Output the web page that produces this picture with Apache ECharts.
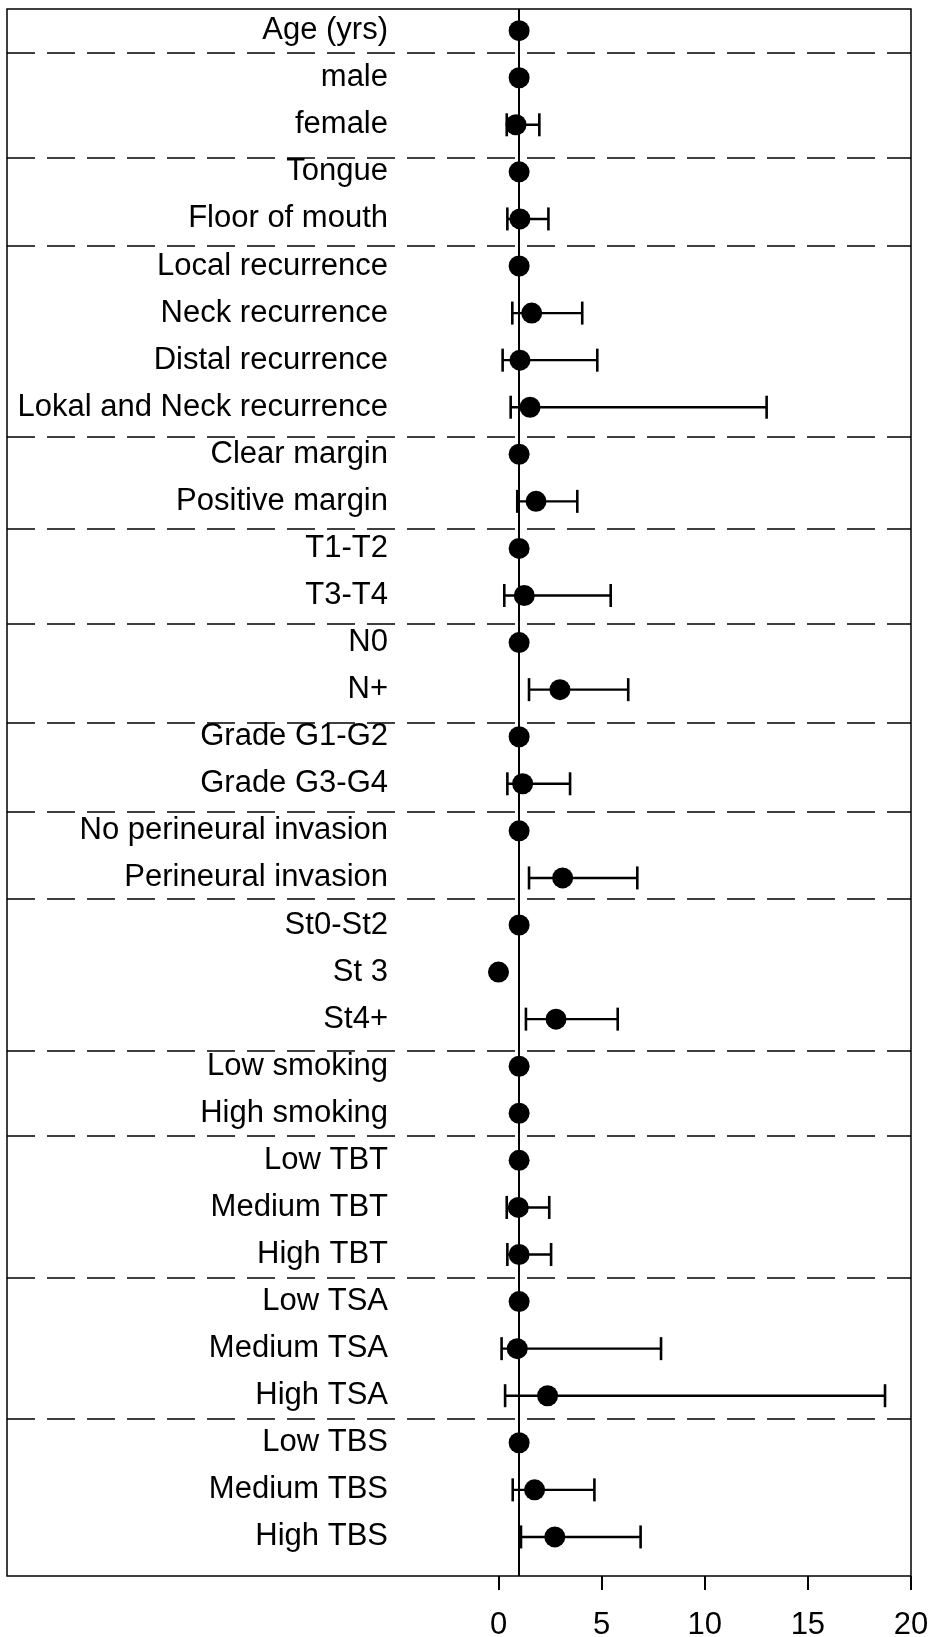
<!DOCTYPE html>
<html>
<head>
<meta charset="utf-8">
<title>Hazard ratios</title>
<script src="https://cdn.jsdelivr.net/npm/echarts@6/dist/echarts.min.js"></script>
<style>
  html, body { margin: 0; padding: 0; background: #fff; }
  #chart { width: 928px; height: 1637px; }
</style>
</head>
<body>
<div id="chart"></div>
<script>
// Row labels, top to bottom
const categories = [
  'Age (yrs)', 'male', 'female', 'Tongue', 'Floor of mouth',
  'Local recurrence', 'Neck recurrence', 'Distal recurrence', 'Lokal and Neck recurrence',
  'Clear margin', 'Positive margin', 'T1-T2', 'T3-T4', 'N0', 'N+',
  'Grade G1-G2', 'Grade G3-G4', 'No perineural invasion', 'Perineural invasion',
  'St0-St2', 'St 3', 'St4+', 'Low smoking', 'High smoking',
  'Low TBT', 'Medium TBT', 'High TBT', 'Low TSA', 'Medium TSA', 'High TSA',
  'Low TBS', 'Medium TBS', 'High TBS'
];

// Point estimates
const hazardRatio = [
  1.0, 1, 0.85, 1, 1.04,
  1, 1.61, 1.04, 1.53,
  1, 1.82, 1, 1.25, 1, 2.98,
  1, 1.17, 1, 3.11,
  1, 0.0, 2.79, 1, 1.0,
  1, 0.96, 1.0, 1, 0.91, 2.38,
  1, 1.75, 2.73
];

// Confidence limits (null = reference level, no interval)
const ciLower = [
  null, null, 0.40, null, 0.43,
  null, 0.67, 0.20, 0.59,
  null, 0.91, null, 0.28, null, 1.48,
  null, 0.43, null, 1.48,
  null, null, 1.33, null, null,
  null, 0.40, 0.43, null, 0.15, 0.32,
  null, 0.69, 1.09
];
const ciUpper = [
  null, null, 1.98, null, 2.42,
  null, 4.06, 4.79, 13.0,
  null, 3.82, null, 5.44, null, 6.29,
  null, 3.47, null, 6.73,
  null, null, 5.78, null, null,
  null, 2.46, 2.55, null, 7.88, 18.74,
  null, 4.65, 6.89
];

// Dashed separators between variable groups (in row units)
const groupBreaks = [0.48, 2.70, 4.58, 8.62, 10.59, 12.59, 14.70, 16.59, 18.44, 21.67, 23.48, 26.49, 29.49];

// x-axis ticks
const xTicks = [0, 5, 10, 15, 20];
const referenceValue = 1;

const FONT = "'Liberation Sans', Arial, sans-serif";

const pointData = hazardRatio.map((v, i) => [v, i]);
const intervalData = [];
ciLower.forEach((lo, i) => {
  if (lo !== null && ciUpper[i] !== null) intervalData.push([i, lo, ciUpper[i]]);
});

const chart = echarts.init(document.getElementById('chart'), null, { renderer: 'canvas' });

chart.setOption({
  animation: false,
  backgroundColor: '#ffffff',
  grid: {
    left: 7, right: 17, top: 9, bottom: 61,
    outerBoundsMode: 'none',
    containLabel: false,
    show: true, borderColor: '#000', borderWidth: 1.5, backgroundColor: 'transparent'
  },
  xAxis: {
    type: 'value',
    min: -23.83,
    max: 20,
    splitLine: { show: false },
    axisLine: { show: false, onZero: false },
    axisTick: {
      show: true, customValues: xTicks, length: 14, inside: false,
      lineStyle: { color: '#000', width: 2 }
    },
    axisLabel: {
      customValues: xTicks, fontSize: 31, color: '#000', fontFamily: FONT, margin: 34
    }
  },
  yAxis: {
    type: 'value',
    inverse: true,
    min: -0.46,
    max: 32.83,
    offset: -389,
    splitLine: { show: false },
    axisLine: { show: false, onZero: false },
    axisTick: { show: false },
    axisLabel: {
      customValues: categories.map((_, i) => i),
      formatter: (v) => categories[Math.round(v)] || '',
      fontSize: 31, color: '#000', fontFamily: FONT, margin: 8, align: 'right'
    }
  },
  series: [
    {
      type: 'custom',
      name: 'CI',
      z: 2,
      data: intervalData,
      encode: { x: [1, 2], y: 0 },
      renderItem: (params, api) => {
        const row = api.value(0);
        const a = api.coord([api.value(1), row]);
        const b = api.coord([api.value(2), row]);
        const cap = 11.5;
        return {
          type: 'group',
          children: [
            { type: 'line', shape: { x1: a[0], y1: a[1], x2: b[0], y2: b[1] },
              style: { stroke: '#000', lineWidth: 2.4 } },
            { type: 'line', shape: { x1: a[0], y1: a[1] - cap, x2: a[0], y2: a[1] + cap },
              style: { stroke: '#000', lineWidth: 2.6 } },
            { type: 'line', shape: { x1: b[0], y1: b[1] - cap, x2: b[0], y2: b[1] + cap },
              style: { stroke: '#000', lineWidth: 2.6 } }
          ]
        };
      },
      markLine: {
        silent: true,
        symbol: ['none', 'none'],
        label: { show: false },
        animation: false,
        data: [
          { xAxis: referenceValue, lineStyle: { color: '#000', width: 2, type: 'solid' } }
        ].concat(groupBreaks.map(y => ({
          yAxis: y, lineStyle: { color: '#000', width: 1.5, type: [28, 12] }
        })))
      }
    },
    {
      type: 'scatter',
      name: 'HR',
      z: 3,
      symbol: 'circle',
      symbolSize: 21,
      itemStyle: { color: '#000', opacity: 1 },
      data: pointData
    }
  ]
});
</script>
</body>
</html>
